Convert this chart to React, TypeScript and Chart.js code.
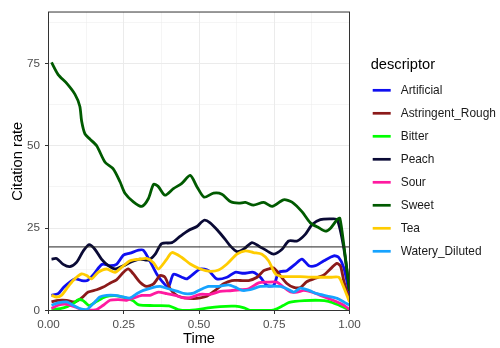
import React, { useEffect, useRef } from "react";
import { Chart, registerables } from "chart.js";

Chart.register(...registerables);

const FONT = "'Liberation Sans', Arial, Helvetica, sans-serif";

const descriptors = ["Artificial", "Astringent_Rough", "Bitter", "Peach", "Sour", "Sweet", "Tea", "Watery_Diluted"];
const colors = ["#0F0FF0", "#8B1A1A", "#00FF00", "#0A0A35", "#FF1AA0", "#005A00", "#FFCC00", "#16A3FF"];

const artificialT = [0.010,0.032,0.051,0.088,0.110,0.129,0.151,0.178,0.206,0.226,0.249,0.271,0.299,0.315,0.337,0.360,0.376,0.398,0.415,0.443,0.460,0.504,0.532,0.559,0.593,0.620,0.648,0.681,0.704,0.726,0.748,0.765,0.792,0.820,0.842,0.865,0.887,0.915,0.948,0.964,0.981,1.000];
const artificialV = [4.6,5.1,7.1,9.6,9.1,9.1,11.1,14.0,13.6,14.0,16.8,17.4,18.3,18.3,15.0,11.0,9.0,7.1,11.0,10.1,9.6,12.6,12.1,9.6,10.1,11.6,11.3,11.6,10.1,7.6,7.6,11.6,12.1,14.1,15.6,13.6,13.6,15.1,16.6,16.1,13.0,5.0];

const astringentT = [0.010,0.032,0.060,0.088,0.110,0.132,0.160,0.182,0.204,0.226,0.249,0.265,0.282,0.304,0.326,0.349,0.371,0.387,0.404,0.426,0.454,0.482,0.504,0.526,0.554,0.582,0.609,0.637,0.665,0.693,0.715,0.731,0.748,0.770,0.792,0.815,0.837,0.859,0.887,0.915,0.942,0.958,0.970,0.981,1.000];
const astringentV = [2.6,3.1,3.1,2.6,3.8,5.6,6.3,7.1,8.3,9.3,11.6,12.6,11.1,8.6,7.3,8.1,10.6,10.1,6.6,4.6,3.8,3.6,3.8,4.3,6.1,8.1,9.1,9.1,9.1,10.1,12.1,12.6,12.9,10.6,8.2,7.0,7.0,8.8,9.8,10.8,13.1,14.3,13.5,9.0,3.0];

const bitterT = [0.010,0.050,0.080,0.100,0.115,0.135,0.160,0.190,0.220,0.250,0.280,0.300,0.350,0.400,0.430,0.460,0.500,0.530,0.570,0.620,0.650,0.670,0.720,0.750,0.780,0.800,0.850,0.900,0.930,0.960,1.000];
const bitterV = [0.2,0.8,2.0,3.3,3.0,1.5,2.8,4.2,4.5,4.0,3.0,1.7,1.5,1.4,0.3,0.0,0.3,0.8,1.2,1.3,0.8,0.0,0.0,0.2,1.5,2.5,3.0,3.1,2.8,1.8,0.1];

const peachT = [0.010,0.027,0.049,0.071,0.093,0.115,0.135,0.154,0.176,0.199,0.221,0.249,0.276,0.304,0.332,0.354,0.376,0.410,0.437,0.465,0.493,0.517,0.537,0.565,0.587,0.604,0.626,0.648,0.676,0.698,0.726,0.748,0.776,0.798,0.826,0.853,0.876,0.903,0.937,0.959,0.981,1.000];
const peachV = [15.6,15.8,14.0,13.3,14.6,18.0,20.0,18.6,15.6,13.6,12.6,13.6,14.8,15.6,15.3,17.0,20.3,20.6,22.5,24.3,25.5,27.4,26.6,24.0,21.6,19.6,17.9,18.6,20.6,19.6,18.1,17.1,18.6,21.1,21.1,23.1,26.1,27.6,27.8,27.6,19.0,6.0];

const sourT = [0.010,0.032,0.060,0.088,0.110,0.132,0.160,0.182,0.204,0.232,0.260,0.282,0.310,0.337,0.365,0.393,0.421,0.448,0.471,0.504,0.537,0.570,0.604,0.637,0.665,0.698,0.726,0.759,0.781,0.804,0.826,0.848,0.876,0.903,0.931,0.959,0.981,1.000];
const sourV = [0.6,1.6,1.9,1.1,0.3,0.1,0.3,1.6,3.1,3.3,3.1,3.8,4.6,4.6,5.6,5.1,4.6,3.8,3.9,4.9,4.9,5.8,6.0,6.3,6.6,8.4,8.6,8.6,7.1,5.6,5.6,6.1,5.6,4.6,3.6,2.6,1.6,0.3];

const sweetT = [0.010,0.032,0.060,0.088,0.104,0.110,0.121,0.138,0.160,0.188,0.215,0.238,0.254,0.282,0.310,0.332,0.349,0.365,0.387,0.415,0.443,0.471,0.493,0.517,0.548,0.576,0.604,0.632,0.654,0.681,0.715,0.743,0.781,0.809,0.842,0.870,0.898,0.920,0.937,0.959,0.968,0.981,1.000];
const sweetV = [75.3,71.6,69.0,65.6,62.0,57.5,53.6,52.0,50.0,45.0,43.0,39.0,35.6,33.0,31.6,34.0,38.3,37.6,35.0,37.0,38.6,41.0,37.6,34.4,35.6,35.3,33.1,32.6,32.8,32.0,32.8,31.6,33.6,32.9,30.0,26.6,25.1,24.1,25.0,27.6,28.0,20.0,6.0];

const teaT = [0.010,0.027,0.043,0.060,0.082,0.110,0.127,0.143,0.165,0.193,0.221,0.243,0.271,0.304,0.326,0.349,0.365,0.393,0.410,0.443,0.471,0.504,0.537,0.565,0.593,0.626,0.654,0.681,0.709,0.731,0.754,0.776,0.804,0.837,0.870,0.903,0.937,0.964,0.981,1.000];
const teaV = [4.6,4.1,4.6,6.6,9.1,11.1,10.6,9.6,11.6,12.6,11.6,13.1,15.1,15.6,15.8,14.5,12.6,15.6,17.6,16.1,14.1,12.6,11.9,12.3,14.1,17.1,18.1,17.6,17.1,15.1,11.1,10.3,10.3,10.3,10.1,10.1,10.1,10.1,7.0,2.6];

const wateryT = [0.010,0.032,0.060,0.082,0.104,0.127,0.149,0.171,0.193,0.221,0.249,0.271,0.293,0.315,0.343,0.371,0.398,0.426,0.454,0.482,0.504,0.532,0.565,0.598,0.620,0.643,0.670,0.704,0.737,0.770,0.792,0.815,0.837,0.865,0.892,0.926,0.959,0.981,1.000];
const wateryV = [1.6,2.3,2.6,1.6,0.6,0.3,2.1,4.1,4.6,4.6,4.1,3.8,5.1,6.1,6.9,7.3,6.6,5.9,5.1,5.3,6.3,7.3,7.3,7.8,7.1,6.1,6.3,7.3,7.4,7.3,6.6,5.6,6.8,6.1,5.1,4.4,3.7,2.6,1.6];

const referenceLevel = 19.3;
const yTicks = [0, 12.5, 25, 37.5, 50, 62.5, 75, 87.5];
const xTicks = [0, 0.125, 0.25, 0.375, 0.5, 0.625, 0.75, 0.875, 1];
const yMax = 90.6;

const seriesTimes = [artificialT, astringentT, bitterT, peachT, sourT, sweetT, teaT, wateryT];
const seriesValues = [artificialV, astringentV, bitterV, peachV, sourV, sweetV, teaV, wateryV];

export default function App() {
  const ref = useRef<HTMLCanvasElement | null>(null);

  useEffect(() => {
    if (!ref.current) return;

    const datasets: any[] = descriptors.map((name, i) => {
      const t = seriesTimes[i];
      const v = seriesValues[i];
      const n = Math.min(t.length, v.length);
      const data = [];
      for (let j = 0; j < n; j++) data.push({ x: t[j], y: v[j] });
      return {
        label: name,
        data,
        borderColor: colors[i],
        borderWidth: 2.8,
        pointRadius: 0,
        tension: 0.25,
        fill: false,
        order: descriptors.length - i,
      };
    });
    datasets.push({
      label: "reference",
      data: [{ x: 0, y: referenceLevel }, { x: 1, y: referenceLevel }],
      borderColor: "#222222",
      borderWidth: 1,
      pointRadius: 0,
      tension: 0,
      fill: false,
      order: 0,
    });

    const panelPlugin = {
      id: "panelAndLegend",
      afterDatasetsDraw(chart: any) {
        const { ctx, chartArea: a } = chart;
        ctx.save();
        ctx.strokeStyle = "#333333";
        ctx.lineWidth = 1;
        ctx.strokeRect(a.left, a.top, a.right - a.left, a.bottom - a.top);
        ctx.restore();
      },
      afterDraw(chart: any) {
        const { ctx } = chart;
        ctx.save();
        ctx.fillStyle = "#000000";
        ctx.textBaseline = "middle";
        ctx.textAlign = "left";
        ctx.font = `14.67px ${FONT}`;
        ctx.fillText("descriptor", 370.7, 65);
        ctx.font = `11.9px ${FONT}`;
        descriptors.forEach((name, i) => {
          const y = 90.3 + i * 23;
          ctx.strokeStyle = colors[i];
          ctx.lineWidth = 2.7;
          ctx.beginPath();
          ctx.moveTo(372.7, y);
          ctx.lineTo(390.7, y);
          ctx.stroke();
          ctx.fillStyle = "#1A1A1A";
          ctx.fillText(name, 400.7, y + 0.5);
        });
        ctx.restore();
      },
    };

    const gridColor = () => "#EBEBEB";
    const chart = new Chart(ref.current, {
      type: "line",
      data: { datasets },
      options: {
        animation: false,
        responsive: false,
        devicePixelRatio: 1,
        layout: { padding: { top: 7.5, right: 150.5, left: 0, bottom: 0 } },
        plugins: { legend: { display: false }, tooltip: { enabled: false }, title: { display: false } },
        scales: {
          x: {
            type: "linear",
            min: 0,
            max: 1,
            afterBuildTicks: (scale: any) => { scale.ticks = xTicks.map((v) => ({ value: v })); },
            afterFit: (scale: any) => { scale.height = 37.5; },
            border: { display: false },
            grid: {
              color: gridColor,
              lineWidth: (c: any) => (c.tick && Math.abs((c.tick.value * 4) % 1) < 1e-9 ? 1 : 0.5),
              tickColor: (c: any) => (c.tick && Math.abs((c.tick.value * 4) % 1) < 1e-9 ? "#333333" : "rgba(0,0,0,0)"),
              tickWidth: 1,
              tickLength: 3.5,
            },
            ticks: {
              autoSkip: false,
              maxRotation: 0,
              padding: 4,
              color: "#4D4D4D",
              font: { family: FONT, size: 11.7 },
              callback: (v: any) => (Math.abs((Number(v) * 4) % 1) < 1e-9 ? Number(v).toFixed(2) : ""),
            },
            title: {
              display: true,
              text: "Time",
              color: "#000000",
              font: { family: FONT, size: 14.67 },
              padding: { top: 0, bottom: 0 },
            },
          },
          y: {
            type: "linear",
            min: 0,
            max: yMax,
            afterBuildTicks: (scale: any) => { scale.ticks = yTicks.map((v) => ({ value: v })); },
            afterFit: (scale: any) => { scale.width = 48.5; },
            border: { display: false },
            grid: {
              color: gridColor,
              lineWidth: (c: any) => (c.tick && c.tick.value % 25 === 0 ? 1 : 0.5),
              tickColor: (c: any) => (c.tick && c.tick.value % 25 === 0 ? "#333333" : "rgba(0,0,0,0)"),
              tickWidth: 1,
              tickLength: 3.5,
            },
            ticks: {
              autoSkip: false,
              padding: 5,
              color: "#4D4D4D",
              font: { family: FONT, size: 11.7 },
              callback: (v: any) => (Number(v) % 25 === 0 ? String(v) : ""),
            },
            title: {
              display: true,
              text: "Citation rate",
              color: "#000000",
              font: { family: FONT, size: 14.67 },
              padding: { top: 9, bottom: 0 },
            },
          },
        },
      } as any,
      plugins: [panelPlugin],
    });

    return () => chart.destroy();
  }, []);

  return (
    <div style={{ position: "absolute", left: 0, top: 0, width: 500, height: 348, background: "#FFFFFF" }}>
      <canvas ref={ref} width={500} height={348} style={{ display: "block", width: 500, height: 348 }} />
    </div>
  );
}
